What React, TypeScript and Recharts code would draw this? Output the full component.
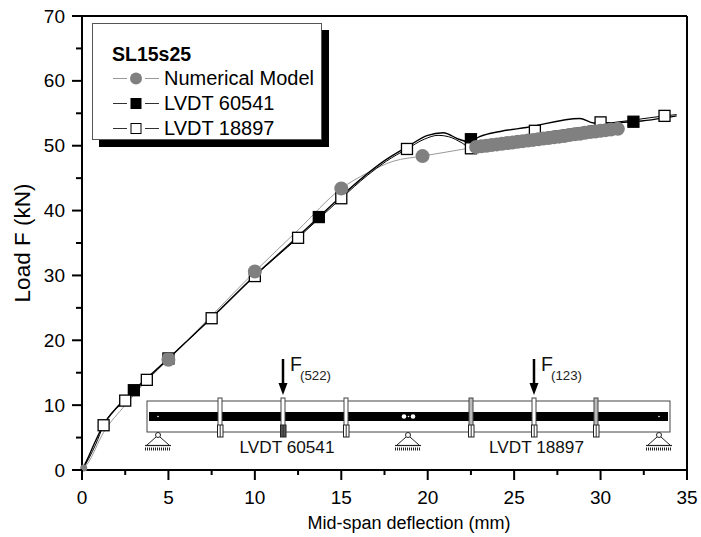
import React from 'react';
import { ComposedChart, Line, XAxis, YAxis, CartesianGrid, Legend } from 'recharts';

const xTicks = [0, 2.5, 5, 7.5, 10, 12.5, 15, 17.5, 20, 22.5, 25, 27.5, 30, 32.5, 35];
const yTicks = [0, 5, 10, 15, 20, 25, 30, 35, 40, 45, 50, 55, 60, 65, 70];

const modelLine = [
  { x: 0, y: 0 }, { x: 0.3, y: 0.9 }, { x: 1.25, y: 5.8 }, { x: 2.5, y: 10 }, { x: 3.75, y: 13.8 }, { x: 5, y: 17 },
  { x: 7.5, y: 23.8 }, { x: 10, y: 30.6 }, { x: 12.5, y: 37 }, { x: 15, y: 43.4 }, { x: 16.5, y: 45.8 },
  { x: 18, y: 47.6 }, { x: 19.7, y: 48.4 }, { x: 22.8, y: 49.8 },
];
const modelDots = [
  { x: 0.1, y: 0.3 }, { x: 5, y: 17 }, { x: 10, y: 30.6 }, { x: 15, y: 43.4 }, { x: 19.7, y: 48.4 },
];
const modelDense = [
  { x: 22.8, y: 49.8 }, { x: 23.1, y: 49.9 }, { x: 23.4, y: 50 }, { x: 23.7, y: 50.1 }, { x: 24, y: 50.2 },
  { x: 24.3, y: 50.3 }, { x: 24.6, y: 50.4 }, { x: 24.9, y: 50.5 }, { x: 25.2, y: 50.6 }, { x: 25.5, y: 50.7 },
  { x: 25.8, y: 50.8 }, { x: 26.1, y: 50.9 }, { x: 26.4, y: 51 }, { x: 26.7, y: 51.1 }, { x: 27, y: 51.2 },
  { x: 27.3, y: 51.3 }, { x: 27.6, y: 51.4 }, { x: 27.9, y: 51.5 }, { x: 28.2, y: 51.65 }, { x: 28.5, y: 51.75 },
  { x: 28.8, y: 51.85 }, { x: 29.1, y: 52 }, { x: 29.4, y: 52.1 }, { x: 29.7, y: 52.2 }, { x: 30, y: 52.3 },
  { x: 30.3, y: 52.4 }, { x: 30.6, y: 52.5 }, { x: 31, y: 52.6 },
];
const lvdtALine = [
  { x: 0, y: 0 }, { x: 0.3, y: 1.6 }, { x: 0.7, y: 4 }, { x: 1.25, y: 7 }, { x: 2, y: 9.6 }, { x: 3, y: 12.3 },
  { x: 5, y: 17.2 }, { x: 8, y: 24.8 }, { x: 10, y: 30 }, { x: 12, y: 34.8 }, { x: 13.7, y: 39 }, { x: 15, y: 42.2 },
  { x: 16.2, y: 45 }, { x: 17.4, y: 47.5 }, { x: 18.8, y: 49.8 }, { x: 20, y: 51.6 }, { x: 20.9, y: 52 },
  { x: 21.8, y: 51 }, { x: 22.4, y: 50.6 }, { x: 23, y: 51.4 }, { x: 24.2, y: 52.2 }, { x: 25.7, y: 52.8 },
  { x: 28.8, y: 54.2 }, { x: 29.6, y: 53.5 }, { x: 31.9, y: 53.7 }, { x: 34.4, y: 54.6 },
];
const lvdtADots = [
  { x: 3, y: 12.3 }, { x: 13.7, y: 39 }, { x: 22.5, y: 51 }, { x: 31.9, y: 53.7 },
];
const lvdtBLine = [
  { x: 0, y: 0 }, { x: 0.4, y: 1.8 }, { x: 0.8, y: 4 }, { x: 1.25, y: 6.9 }, { x: 2.5, y: 10.7 }, { x: 3.75, y: 13.9 },
  { x: 5, y: 17.2 }, { x: 7.5, y: 23.4 }, { x: 10, y: 29.9 }, { x: 12.5, y: 35.8 }, { x: 15, y: 41.9 }, { x: 16.5, y: 45.4 },
  { x: 17.6, y: 47.6 }, { x: 18.8, y: 49.5 }, { x: 19.8, y: 51 }, { x: 20.6, y: 51.6 }, { x: 21.2, y: 51.4 },
  { x: 22, y: 50.4 }, { x: 22.5, y: 49.6 }, { x: 24, y: 50.6 }, { x: 26.2, y: 51.8 }, { x: 28.8, y: 52.8 },
  { x: 30, y: 53.3 }, { x: 32, y: 54 }, { x: 33.7, y: 54.6 }, { x: 34.4, y: 54.8 },
];
const lvdtBDots = [
  { x: 1.25, y: 6.9 }, { x: 2.5, y: 10.7 }, { x: 3.75, y: 13.9 }, { x: 5, y: 17.2 }, { x: 7.5, y: 23.4 }, { x: 10, y: 29.9 },
  { x: 12.5, y: 35.8 }, { x: 15, y: 41.9 }, { x: 18.8, y: 49.5 }, { x: 22.5, y: 49.6 }, { x: 26.2, y: 52.3 },
  { x: 30, y: 53.6 }, { x: 33.7, y: 54.6 },
];

const GREY = '#808080';
const FONT = '"Liberation Sans", Arial, sans-serif';
const stiffeners = [220, 283, 346, 471, 534, 596];
const supports = [158, 408, 659];

const XTick = (p: any) => {
  const major = p.payload.value % 5 === 0;
  return (
    <g>
      <line x1={p.x} x2={p.x} y1={470} y2={major ? 480 : 475} stroke="#000" strokeWidth={2} />
      {major && <text x={p.x} y={504} textAnchor="middle" fontSize={19} fontFamily={FONT}>{p.payload.value}</text>}
    </g>
  );
};
const YTick = (p: any) => {
  const major = p.payload.value % 10 === 0;
  return (
    <g>
      <line x1={82} x2={major ? 72 : 76} y1={p.y} y2={p.y} stroke="#000" strokeWidth={2} />
      {major && <text x={65} y={p.y + 6.5} textAnchor="end" fontSize={19} fontFamily={FONT}>{p.payload.value}</text>}
    </g>
  );
};
const RTick = (p: any) => {
  const major = p.payload.value % 10 === 0;
  return <line x1={687} x2={major ? 681 : 684} y1={p.y} y2={p.y} stroke="#000" strokeWidth={1.5} />;
};

const Square = (fill: string) => (p: any) => {
  if (p.cx == null) return <g key={p.key} />;
  return <rect key={p.key} x={p.cx - 5.5} y={p.cy - 5.5} width={11} height={11} fill={fill} stroke="#000" strokeWidth={1.3} />;
};
const Circle = (p: any) => {
  if (p.cx == null) return <g key={p.key} />;
  return <circle key={p.key} cx={p.cx} cy={p.cy} r={p.index === 0 ? 3.5 : 7} fill={GREY} />;
};
const DenseCircle = (p: any) => {
  if (p.cx == null) return <g key={p.key} />;
  return <circle key={p.key} cx={p.cx} cy={p.cy} r={7} fill={GREY} />;
};

const rows = [
  { name: 'Numerical Model', color: '#999', kind: 'circle' },
  { name: 'LVDT 60541', color: '#333', kind: 'black' },
  { name: 'LVDT 18897', color: '#333', kind: 'white' },
];

const LegendBox = () => (
  <div style={{ width: 228, height: 115, background: '#fff', border: '1px solid #555', boxShadow: '7px 7px 0 #000', fontFamily: FONT, color: '#000', position: 'relative' }}>
    <div style={{ position: 'absolute', left: 19, top: 19, fontSize: 19.5, fontWeight: 700, lineHeight: '22px' }}>SL15s25</div>
    {rows.map((r, i) => (
      <div key={r.name} style={{ position: 'absolute', left: 19, top: 42 + i * 25, height: 25, display: 'flex', alignItems: 'center' }}>
        <svg width={48} height={25} style={{ display: 'block' }}>
          <line x1={1} x2={47} y1={12.5} y2={12.5} stroke={r.color} strokeWidth={1} />
          <rect x={15} y={4} width={18} height={17} fill="#fff" />
          {r.kind === 'circle' && <circle cx={24} cy={12.5} r={6} fill={GREY} />}
          {r.kind === 'black' && <rect x={19} y={7.5} width={10} height={10} fill="#000" stroke="#000" />}
          {r.kind === 'white' && <rect x={19} y={7.5} width={10} height={10} fill="#fff" stroke="#000" />}
        </svg>
        <span style={{ marginLeft: 4, fontSize: 20, whiteSpace: 'nowrap' }}>{r.name}</span>
      </div>
    ))}
  </div>
);

const Support = ({ x }: { x: number }) => (
  <g>
    <circle cx={x} cy={435} r={2.5} fill="#fff" stroke="#222" strokeWidth={1} />
    <path d={`M${x - 2} 437 L${x - 11} 445 M${x + 2} 437 L${x + 11} 445`} stroke="#222" strokeWidth={1} fill="none" />
    <line x1={x - 13} x2={x + 13} y1={445.5} y2={445.5} stroke="#222" strokeWidth={1.2} />
    <line x1={x - 13} x2={x + 13} y1={449} y2={449} stroke="#222" strokeWidth={3} strokeDasharray="1 1" />
  </g>
);

const Beam = () => (
  <svg width={701} height={537} style={{ position: 'absolute', left: 0, top: 0, pointerEvents: 'none' }}>
    <rect x={147} y={401} width={523} height={31} fill="none" stroke="#444" strokeWidth={1} />
    <rect x={149} y={412} width={519} height={9} fill="#000" />
    <circle cx={158} cy={416.5} r={0.8} fill="#fff" />
    <circle cx={404} cy={416.5} r={2.3} fill="#fff" />
    <circle cx={408.5} cy={416.5} r={0.8} fill="#fff" />
    <circle cx={413} cy={416.5} r={2.3} fill="#fff" />
    <circle cx={659} cy={416.5} r={0.8} fill="#fff" />
    {stiffeners.map((x) => (
      <g key={x}>
        <rect x={x - 2} y={398} width={4} height={28} fill={x === 471 || x === 596 ? '#bbb' : '#fff'} stroke="#444" strokeWidth={1} />
        <rect x={x - 2.5} y={425} width={5.5} height={12} fill={x === 283 ? '#555' : '#fff'} stroke="#222" strokeWidth={1} />
        <line x1={x + 0.2} x2={x + 0.2} y1={425} y2={437} stroke="#333" strokeWidth={1} />
      </g>
    ))}
    {supports.map((x) => <Support key={x} x={x} />)}
    {[
      { x: 283, sub: '(522)' },
      { x: 534, sub: '(123)' },
    ].map((a) => (
      <g key={a.x}>
        <line x1={a.x} x2={a.x} y1={359} y2={385} stroke="#000" strokeWidth={2.5} />
        <path d={`M${a.x - 4.5} 383 L${a.x + 4.5} 383 L${a.x} 395 Z`} fill="#000" />
        <text x={a.x + 7} y={371} fontSize={19.5} fontFamily={FONT} fill="#111">F</text>
        <text x={a.x + 17} y={380} fontSize={13.3} fontFamily={FONT} fill="#222">{a.sub}</text>
      </g>
    ))}
    <text x={287} y={453} textAnchor="middle" fontSize={17.2} fontFamily={FONT} fill="#111">LVDT 60541</text>
    <text x={536.5} y={453} textAnchor="middle" fontSize={17.2} fontFamily={FONT} fill="#111">LVDT 18897</text>
  </svg>
);

const XTitle = () => <text x={409} y={529} textAnchor="middle" fontSize={18} fontFamily={FONT} fill="#000">Mid-span deflection (mm)</text>;
const YTitle = () => <text x={30} y={243} transform="rotate(-90 30 243)" textAnchor="middle" fontSize={22.5} fontFamily={FONT} fill="#000">Load F (kN)</text>;

export default function App() {
  return (
    <div style={{ position: 'absolute', left: 0, top: 0, width: 701, height: 537, background: '#fff' }}>
      <ComposedChart width={701} height={537} margin={{ top: 0, right: 0, bottom: 0, left: 0 }}>
        <CartesianGrid stroke="#c8c8c8" strokeDasharray="3 2 1 2" horizontalValues={yTicks} verticalValues={xTicks} />
        <XAxis xAxisId="b" type="number" dataKey="x" domain={[0, 35]} ticks={xTicks} interval={0} height={67} axisLine={{ stroke: '#000', strokeWidth: 2 }} tickLine={false} tick={XTick} label={XTitle} />
        <XAxis xAxisId="t" orientation="top" type="number" domain={[0, 35]} height={16} axisLine={{ stroke: '#000', strokeWidth: 2 }} tick={false} tickLine={false} />
        <YAxis yAxisId="l" type="number" domain={[0, 70]} ticks={yTicks} interval={0} width={82} axisLine={{ stroke: '#000', strokeWidth: 2 }} tickLine={false} tick={YTick} label={YTitle} />
        <YAxis yAxisId="r" orientation="right" type="number" domain={[0, 70]} ticks={yTicks} interval={0} width={14} axisLine={{ stroke: '#000', strokeWidth: 2 }} tickLine={false} tick={RTick} />
        <Legend layout="vertical" align="center" verticalAlign="middle" content={() => <LegendBox />} wrapperStyle={{ left: 92, top: 23, width: 230, height: 117 }} />

        <Line xAxisId="b" yAxisId="l" data={modelLine} dataKey="y" name="Numerical Model line" stroke="#999" strokeWidth={1} dot={false} type="monotone" isAnimationActive={false} legendType="none" />
        <Line xAxisId="b" yAxisId="l" data={lvdtBLine} dataKey="y" name="LVDT 18897 line" stroke="#000" strokeWidth={1} dot={false} type="monotone" isAnimationActive={false} legendType="none" />
        <Line xAxisId="b" yAxisId="l" data={lvdtALine} dataKey="y" name="LVDT 60541 line" stroke="#000" strokeWidth={1.4} dot={false} type="monotone" isAnimationActive={false} legendType="none" />
        <Line xAxisId="b" yAxisId="l" data={lvdtADots} dataKey="y" name="LVDT 60541" stroke="none" dot={Square('#000')} isAnimationActive={false} />
        <Line xAxisId="b" yAxisId="l" data={lvdtBDots} dataKey="y" name="LVDT 18897" stroke="none" dot={Square('#fff')} isAnimationActive={false} />
        <Line xAxisId="b" yAxisId="l" data={modelDots} dataKey="y" name="Numerical Model" stroke="none" dot={Circle} isAnimationActive={false} />
        <Line xAxisId="b" yAxisId="l" data={modelDense} dataKey="y" name="Numerical Model dense" stroke="none" dot={DenseCircle} isAnimationActive={false} legendType="none" />
      </ComposedChart>
      <Beam />
    </div>
  );
}
